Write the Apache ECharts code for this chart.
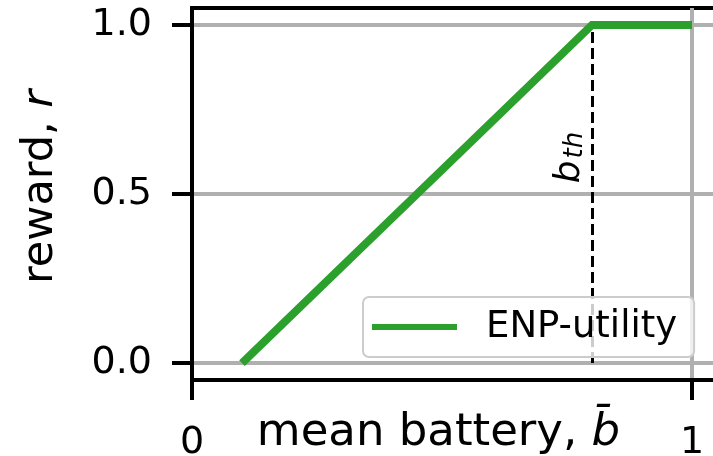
<!DOCTYPE html>
<html>
<head>
<meta charset="utf-8">
<style>html,body{margin:0;padding:0;background:#fff;}#c{width:713px;height:456px;}</style>
<script src="https://cdn.jsdelivr.net/npm/echarts@6/dist/echarts.min.js"></script>
</head>
<body>
<div id="c"></div>
<script>
// data
const batteryX = [0.1, 0.8, 1.0];
const rewardY = [0.0, 1.0, 1.0];
const bTh = 0.8;
const xTicks = [0, 1];
const yTicks = [0, 0.5, 1];
const xTickLabels = ['0', '1'];
const yTickLabels = ['0.0', '0.5', '1.0'];
const seriesName = 'ENP-utility';

const FONT = 'DejaVu Sans';
const chart = echarts.init(document.getElementById('c'));
const lineData = batteryX.map((x, i) => [x, rewardY[i]]);
const lab = (ticks, labels) => v => {
  const i = ticks.findIndex(t => Math.abs(t - v) < 1e-9);
  return i < 0 ? '' : labels[i];
};

// grid lines (the one on the left spine is hidden under it)
const gridLines = yTicks.map(v => ({yAxis: v})).concat(xTicks.filter(v => v !== 0).map(v => ({xAxis: v})));

chart.setOption({
  animation: false,
  backgroundColor: '#fff',
  grid: {left: 192, top: 8, width: 525, height: 372, outerBoundsMode: 'none', containLabel: false,
    show: true, borderColor: '#000', borderWidth: 4, backgroundColor: 'transparent'},
  xAxis: {
    type: 'value', min: 0, max: 1.05, interval: 1, z: 5,
    splitLine: {show: false},
    axisLine: {show: true, onZero: false, lineStyle: {color: '#000', width: 4}},
    axisTick: {show: true, inside: false, length: 20, lineStyle: {color: '#000', width: 4}},
    axisLabel: {showMaxLabel: false, margin: 44, color: '#000', fontFamily: FONT, fontSize: 38,
      formatter: lab(xTicks, xTickLabels)},
    name: '{n|mean battery, }{i|b\u0304}',
    nameLocation: 'middle', nameGap: 31, nameMoveOverlap: false,
    nameTextStyle: {padding: [0, 32, 0, 0], rich: {
      n: {fontFamily: FONT, fontSize: 45, color: '#000'},
      i: {fontFamily: FONT, fontSize: 45, fontStyle: 'italic', color: '#000'}
    }}
  },
  yAxis: {
    type: 'value', min: -0.05, max: 1.05, z: 5,
    splitLine: {show: false},
    axisLine: {show: true, onZero: false, lineStyle: {color: '#000', width: 4}},
    axisTick: {show: true, inside: false, customValues: yTicks, length: 20, lineStyle: {color: '#000', width: 4}},
    axisLabel: {customValues: yTicks, margin: 40, color: '#000', fontFamily: FONT, fontSize: 38,
      formatter: lab(yTicks, yTickLabels)},
    name: '{n|reward, }{i|r}',
    nameLocation: 'middle', nameGap: 130, nameRotate: 90, nameMoveOverlap: false,
    nameTextStyle: {padding: [0, 0, 0, 14], rich: {
      n: {fontFamily: FONT, fontSize: 43, color: '#000'},
      i: {fontFamily: FONT, fontSize: 43, fontStyle: 'italic', color: '#000'}
    }}
  },
  legend: {
    data: [seriesName], left: 363, top: 297, z: 20,
    padding: [10, 17, 10, 9],
    backgroundColor: 'rgba(255,255,255,0.8)', borderColor: '#cccccc', borderWidth: 2, borderRadius: 6,
    icon: 'rect', itemWidth: 85, itemHeight: 6,
    textStyle: {fontFamily: FONT, fontSize: 37, color: '#000', lineHeight: 40, padding: [0, 0, 0, 24]},
    selectedMode: false
  },
  series: [
    {
      name: 'grid', type: 'line', data: [[0, 0]], symbol: 'none', silent: true, z: 0,
      lineStyle: {opacity: 0},
      markLine: {silent: true, z: 0, symbol: ['none', 'none'], label: {show: false},
        lineStyle: {color: '#b0b0b0', width: 4, type: 'solid'}, data: gridLines}
    },
    {
      name: 'bth', type: 'line', data: [[bTh, 0]], symbol: 'none', silent: true, z: 1,
      lineStyle: {opacity: 0},
      markLine: {silent: true, z: 1, symbol: ['none', 'none'],
        lineStyle: {color: '#000', width: 3, type: [11, 5]},
        label: {show: true, position: 'insideMiddleTop', distance: 4, padding: [0, 0, 0, 73],
          formatter: '{b|b}{s|th}',
          rich: {
            b: {fontFamily: FONT, fontSize: 36, fontStyle: 'italic', color: '#000', lineHeight: 36, verticalAlign: 'bottom'},
            s: {fontFamily: FONT, fontSize: 26, fontStyle: 'italic', color: '#000', lineHeight: 40, verticalAlign: 'bottom', padding: [0, 0, 0, 2]}
          }},
        data: [[{coord: [bTh, 0]}, {coord: [bTh, 1]}]]}
    },
    {
      name: seriesName, type: 'line', data: lineData, symbol: 'none', z: 10,
      itemStyle: {color: '#2ca02c'},
      lineStyle: {color: '#2ca02c', width: 8, cap: 'butt', join: 'miter'}
    }
  ]
});
</script>
</body>
</html>
